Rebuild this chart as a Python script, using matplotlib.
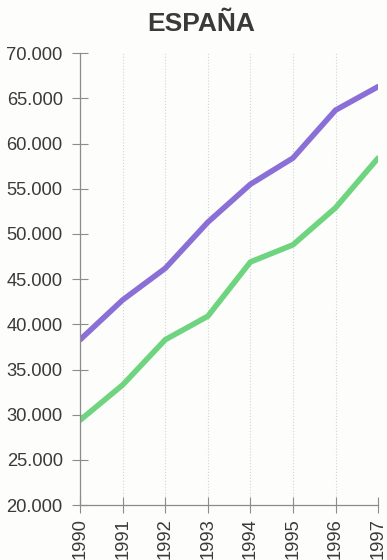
import matplotlib.pyplot as plt
from matplotlib.ticker import FuncFormatter

years = [1990, 1991, 1992, 1993, 1994, 1995, 1996, 1997]
serie_morada = [38300, 42700, 46200, 51300, 55500, 58400, 63700, 66300]
serie_verde = [29400, 33300, 38300, 40900, 46900, 48800, 52900, 58400]
y_ticks = [20000, 25000, 30000, 35000, 40000, 45000, 50000, 55000, 60000, 65000, 70000]

plt.rcParams['font.family'] = ['Liberation Sans', 'DejaVu Sans']

fig = plt.figure(figsize=(3.87, 5.6), dpi=100)
fig.patch.set_facecolor('#fdfdfb')
ax = fig.add_axes([0.207, 0.098, 0.77, 0.807])
ax.set_facecolor('#fdfdfb')

ax.plot(years, serie_morada, color='#8a6fd6', linewidth=4, solid_joinstyle='round', solid_capstyle='round')
ax.plot(years, serie_verde, color='#6fd47f', linewidth=4, solid_joinstyle='round', solid_capstyle='round')

ax.set_xlim(1990, 1997)
ax.set_ylim(20000, 70000)
ax.set_xticks(years)
ax.set_xticklabels([str(y) for y in years], rotation=90)
ax.set_yticks(y_ticks)
ax.yaxis.set_major_formatter(FuncFormatter(lambda v, p: f'{int(v):,}'.replace(',', '.')))

ax.xaxis.grid(True, linestyle=':', color='#d4d4d4', linewidth=0.8)
for s in ['top', 'right']:
    ax.spines[s].set_visible(False)
for s in ['left', 'bottom']:
    ax.spines[s].set_color('#8c8c8c')
    ax.spines[s].set_linewidth(0.9)
ax.tick_params(direction='inout', length=11, color='#8c8c8c', labelsize=13.2, labelcolor='#3a3a3a')
ax.tick_params(axis='y', pad=7)
ax.tick_params(axis='x', pad=4)

fig.suptitle('ESPAÑA', x=0.52, y=0.978, fontsize=19, fontweight='bold', color='#3a3a3a')

fig.savefig('out.png', dpi=100, facecolor=fig.get_facecolor())
